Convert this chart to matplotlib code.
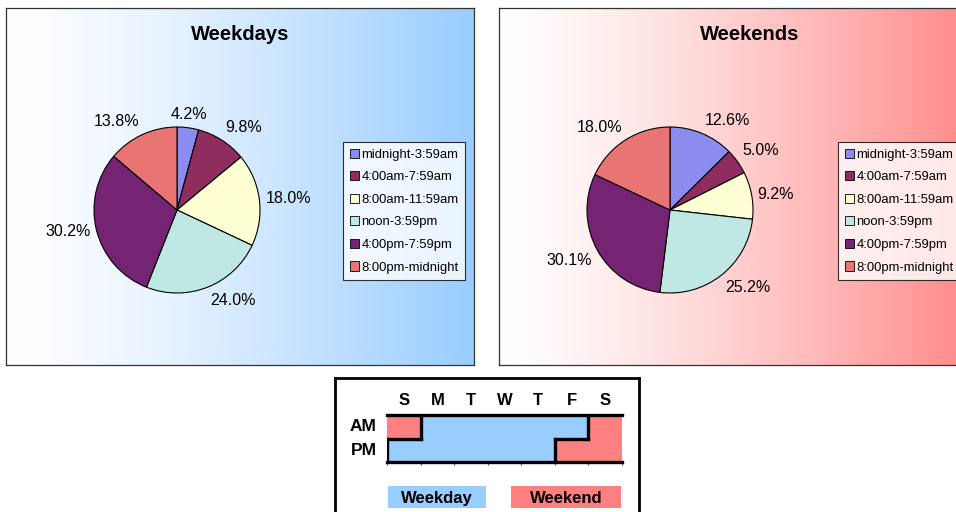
import numpy as np
import matplotlib
matplotlib.use("Agg")
import matplotlib.pyplot as plt
from matplotlib.patches import Rectangle
from matplotlib.colors import to_rgb

plt.rcParams['font.family'] = ['Liberation Sans', 'DejaVu Sans']

# ---------------- data ----------------
slots = ["midnight-3:59am", "4:00am-7:59am", "8:00am-11:59am",
         "noon-3:59pm", "4:00pm-7:59pm", "8:00pm-midnight"]
weekday_pct = [4.2, 9.8, 18.0, 24.0, 30.2, 13.8]
weekend_pct = [12.6, 5.0, 9.2, 25.2, 30.1, 18.0]
slot_colors = ["#8C8CEE", "#8E2D5E", "#FFFFD4", "#BFE8E5", "#752473", "#E87474"]

days = ["S", "M", "T", "W", "T", "F", "S"]
am_kind = ["E", "D", "D", "D", "D", "D", "E"]   # D = weekday, E = weekend
pm_kind = ["D", "D", "D", "D", "D", "E", "E"]
kind_colors = {"D": "#99CCFF", "E": "#FF8080"}
kind_names = {"D": "Weekday", "E": "Weekend"}

W, H = 956, 512
fig = plt.figure(figsize=(W / 100, H / 100), dpi=100)
fig.patch.set_facecolor("white")


def fbox(x0, y0, x1, y1):
    return [x0 / W, 1 - y1 / H, (x1 - x0) / W, (y1 - y0) / H]


def panel(x0, y0, x1, y1, end_color, title):
    ax = fig.add_axes(fbox(x0, y0, x1, y1))
    c = np.array(to_rgb(end_color))
    t = np.linspace(0, 1, 256)
    t = t ** 1.3
    grad = (1 - t)[:, None] * np.ones(3) + t[:, None] * c
    ax.imshow(grad[None, :, :], aspect="auto", extent=[0, 1, 0, 1])
    ax.set_xlim(0, 1)
    ax.set_ylim(0, 1)
    ax.set_xticks([])
    ax.set_yticks([])
    for s in ax.spines.values():
        s.set_color("#333333")
        s.set_linewidth(0.9)
    ax.text(0.5, 1 - 27 / (y1 - y0), title, ha="center", va="center",
            fontsize=14.5, fontweight="bold", transform=ax.transAxes)
    return ax


def pie(cx, cy, r, values, legend_xy):
    pad = 6
    ax = fig.add_axes(fbox(cx - r, cy - r, cx + r, cy + r))
    ax.set_zorder(5)
    wedges, _ = ax.pie(values, colors=slot_colors, startangle=90, counterclock=False,
                       radius=1.0, wedgeprops=dict(edgecolor="black", linewidth=0.8))
    ax.set_xlim(-1, 1)
    ax.set_ylim(-1, 1)
    ax.set_aspect("equal")
    ax.axis("off")
    for w, v in zip(wedges, values):
        ang = np.deg2rad((w.theta1 + w.theta2) / 2)
        c, s = np.cos(ang), np.sin(ang)
        d = 1 + pad / r
        ha = "left" if c > 0.35 else ("right" if c < -0.35 else "center")
        va = "bottom" if s > 0.3 else ("top" if s < -0.3 else "center")
        ax.text(d * c, d * s, f"{v:.1f}%", ha=ha, va=va, fontsize=11.5, clip_on=False)
    lx, ly = legend_xy
    leg = ax.legend(wedges, slots, loc="upper left",
                    bbox_to_anchor=(lx / W, 1 - ly / H), bbox_transform=fig.transFigure,
                    fontsize=9.4, frameon=True, fancybox=False, edgecolor="black",
                    handlelength=0.7, handleheight=0.7, handletextpad=0.2,
                    labelspacing=0.8, borderpad=0.5, borderaxespad=0)
    leg.get_frame().set_linewidth(0.8)
    for h in leg.legend_handles:
        h.set_linewidth(0.6)
    return ax


panel(6, 8, 474, 365, "#99CCFF", "Weekdays")
panel(499, 8, 1000, 365, "#FF8080", "Weekends")
pie(177, 210, 83, weekday_pct, (343, 142))
pie(670, 210, 83, weekend_pct, (838, 142))

# ---------------- schedule key ----------------
box = fig.add_axes(fbox(335, 378, 639, 520))
box.set_xticks([])
box.set_yticks([])
for s in box.spines.values():
    s.set_linewidth(2)
    s.set_color("black")

gx0, gx1, gy0, gy1 = 387, 622, 415, 462
g = fig.add_axes(fbox(gx0, gy0, gx1, gy1))
g.set_zorder(3)
g.set_xlim(0, len(days))
g.set_ylim(0, 2)
rows = [pm_kind, am_kind]  # y=0 row is PM, y=1 row is AM
for yi, row in enumerate(rows):
    for xi, k in enumerate(row):
        g.add_patch(Rectangle((xi, yi), 1, 1, facecolor=kind_colors[k], edgecolor="none"))

lw = 2.4
def kind(xi, yi):
    if 0 <= xi < len(days) and 0 <= yi < 2:
        return rows[yi][xi]
    return None

for yi in range(2):
    for xi in range(len(days)):
        if rows[yi][xi] != "D":
            continue
        if kind(xi - 1, yi) != "D":
            g.plot([xi, xi], [yi, yi + 1], color="black", lw=lw, solid_capstyle="projecting")
        if kind(xi + 1, yi) != "D":
            g.plot([xi + 1, xi + 1], [yi, yi + 1], color="black", lw=lw, solid_capstyle="projecting")
        if kind(xi, yi - 1) not in ("D", None):
            g.plot([xi, xi + 1], [yi, yi], color="black", lw=lw, solid_capstyle="projecting")
        if kind(xi, yi + 1) not in ("D", None):
            g.plot([xi, xi + 1], [yi + 1, yi + 1], color="black", lw=lw, solid_capstyle="projecting")
g.plot([0, len(days)], [2, 2], color="black", lw=lw, clip_on=False)
g.plot([0, len(days)], [0, 0], color="black", lw=lw, clip_on=False)
g.set_xticks(np.arange(len(days) + 1))
g.set_xticklabels([])
g.set_yticks([])
g.tick_params(axis="x", length=2.5, width=0.8, color="#555555", direction="out", pad=0)
for s in g.spines.values():
    s.set_visible(False)

for xi, d in enumerate(days):
    g.text(xi + 0.5, 2.6, d, ha="center", va="center", fontsize=12, fontweight="bold")
g.text(-0.3, 1.5, "AM", ha="right", va="center", fontsize=12.5, fontweight="bold")
g.text(-0.3, 0.5, "PM", ha="right", va="center", fontsize=12.5, fontweight="bold")

for (x0, x1), k in [((388, 486), "D"), ((511, 621), "E")]:
    lab = fig.add_axes(fbox(x0, 486, x1, 508))
    lab.set_facecolor(kind_colors[k])
    lab.set_xticks([])
    lab.set_yticks([])
    for s in lab.spines.values():
        s.set_visible(False)
    lab.text(0.5, 0.45, kind_names[k], ha="center", va="center", fontsize=12,
             fontweight="bold", transform=lab.transAxes)

fig.savefig("out.png", dpi=100)
